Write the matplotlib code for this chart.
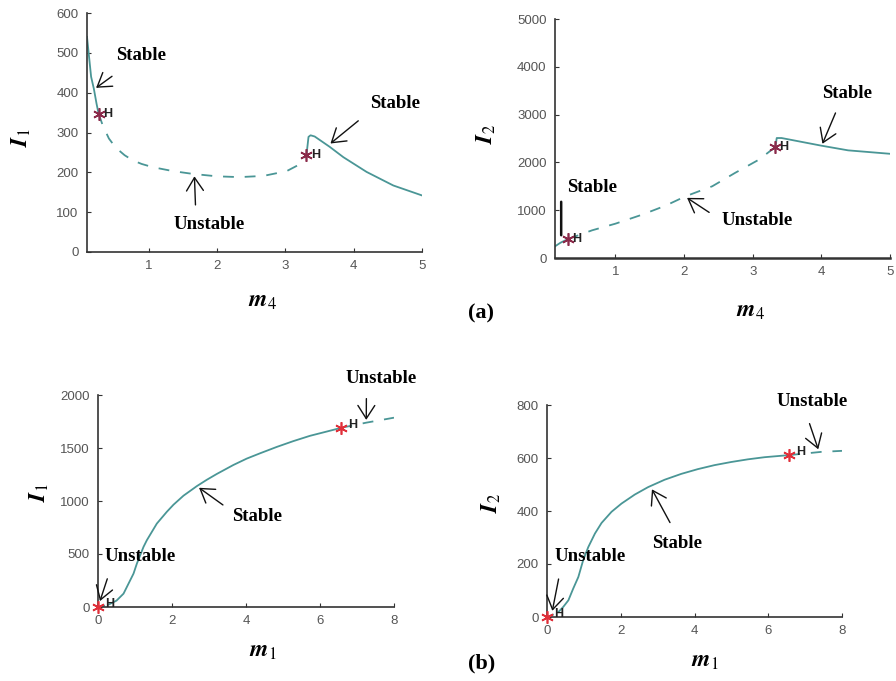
import matplotlib
matplotlib.use("Agg")
import matplotlib.pyplot as plt

plt.rcParams['mathtext.fontset'] = 'stix'
plt.rcParams['font.family'] = ['Liberation Sans', 'DejaVu Sans']

# ---------------- data ----------------
# Panel (a) left: I1 vs m4
p1_stable_a_m = [0.1, 0.13, 0.16, 0.2, 0.24, 0.27]
p1_stable_a_I = [540, 490, 440, 410, 372, 347]
p1_unstable_m = [0.27, 0.33, 0.42, 0.52, 0.65, 0.77, 0.9, 1.06, 1.36, 1.65, 2.0, 2.33, 2.68, 3.02, 3.21, 3.31]
p1_unstable_I = [347, 318, 285, 262, 243, 230, 221, 213, 203, 196, 190, 188, 191, 203, 220, 243]
p1_stable_b_m = [3.31, 3.34, 3.37, 3.43, 3.65, 3.85, 4.19, 4.58, 5.0]
p1_stable_b_I = [243, 289, 293, 290, 264, 238, 201, 167, 142]
p1_hopf_m = [0.27, 3.31]
p1_hopf_I = [347, 243]

# Panel (a) right: I2 vs m4
p2_stable_a_m = [0.12, 0.2, 0.31]
p2_stable_a_I = [244, 320, 397]
p2_unstable_m = [0.31, 0.66, 1.0, 1.39, 1.73, 2.02, 2.41, 2.74, 3.09, 3.33]
p2_unstable_I = [397, 579, 718, 907, 1095, 1290, 1500, 1778, 2057, 2322]
p2_stable_b_m = [3.33, 3.35, 3.42, 4.0, 4.39, 5.0]
p2_stable_b_I = [2322, 2510, 2510, 2350, 2252, 2180]
p2_hopf_m = [0.31, 3.33]
p2_hopf_I = [397, 2322]

# Panel (b) left: I1 vs m1
p3_unstable_a_m = [0.0, 0.1, 0.2, 0.3]
p3_unstable_a_I = [0, 5, 15, 25]
p3_stable_m = [0.3, 0.5, 0.69, 0.78, 0.96, 1.05, 1.23, 1.32, 1.59, 1.86, 2.04, 2.31, 2.67,
               2.94, 3.21, 3.66, 4.02, 4.38, 4.83, 5.28, 5.73, 6.18, 6.58]
p3_stable_I = [25, 60, 126, 189, 315, 409, 567, 630, 787, 898, 965, 1050, 1140,
               1200, 1255, 1340, 1400, 1450, 1510, 1565, 1615, 1655, 1691]
p3_unstable_b_m = [6.58, 7.25, 8.0]
p3_unstable_b_I = [1691, 1739, 1786]
p3_hopf_m = [0.0, 6.58]
p3_hopf_I = [0, 1691]

# Panel (b) right: I2 vs m1
p4_unstable_a_m = [0.0, 0.15, 0.31]
p4_unstable_a_I = [0, 8, 19]
p4_stable_m = [0.31, 0.44, 0.58, 0.71, 0.85, 0.98, 1.12, 1.30, 1.48, 1.75, 2.02, 2.38, 2.74,
               3.19, 3.64, 4.09, 4.54, 5.0, 5.45, 5.9, 6.57]
p4_stable_I = [19, 38, 63, 107, 151, 214, 264, 315, 355, 397, 428, 462, 490,
               518, 540, 558, 573, 585, 595, 603, 611]
p4_unstable_b_m = [6.57, 7.43, 8.0]
p4_unstable_b_I = [611, 623, 627]
p4_hopf_m = [0.0, 6.57]
p4_hopf_I = [0, 611]

line_col = '#4a9696'
ann_font = dict(family='Liberation Serif', fontweight='bold', fontsize=13.5)

fig = plt.figure(figsize=(8.96, 6.81), dpi=100)

def fpos(l, r, t, b):
    W, H = 896.0, 681.0
    return [l / W, 1 - b / H, (r - l) / W, (b - t) / H]

ax1 = fig.add_axes(fpos(87, 422, 13, 252))
ax2 = fig.add_axes(fpos(555, 890, 19, 258))
ax3 = fig.add_axes(fpos(98, 394, 395, 607))
ax4 = fig.add_axes(fpos(547, 842, 405, 617))

def style(ax, xlim, ylim, xticks, yticks):
    ax.set_xlim(*xlim)
    ax.set_ylim(*ylim)
    ax.set_xticks(xticks)
    ax.set_yticks(yticks)
    for s in ['top', 'right']:
        ax.spines[s].set_visible(False)
    for s in ['left', 'bottom']:
        ax.spines[s].set_color('#333333')
        ax.spines[s].set_linewidth(1.2)
    ax.tick_params(direction='in', length=3, width=0.8, colors='#333333',
                   labelcolor='#555555', labelsize=9.5, pad=6)
    ax.patch.set_alpha(0)

def hopf(ax, m, I, col, dx, dy):
    ax.plot(m, I, linestyle='none', marker=(6, 2, 0), markersize=9,
            color=col, markeredgewidth=1.2, clip_on=False, zorder=5)
    for mm, ii in zip(m, I):
        ax.annotate('H', (mm, ii), xytext=(dx, dy), textcoords='offset points',
                    fontsize=9, color='#222222', va='center', ha='left',
                    fontweight='bold')

arrow = dict(arrowstyle='->,head_length=0.7,head_width=0.45', color='#111111', lw=1.0)

def labels(ax, ylab, yx, yy, xlab, xx, xy):
    ax.set_ylabel(ylab, fontsize=17)
    ax.yaxis.set_label_coords(yx, yy)
    ax.set_xlabel(xlab, fontsize=17)
    ax.xaxis.set_label_coords(xx, xy)

# ---- Panel 1 ----
style(ax1, (0.1, 5), (0, 600), [1, 2, 3, 4, 5], [0, 100, 200, 300, 400, 500, 600])
ax1.plot(p1_stable_a_m, p1_stable_a_I, color=line_col, lw=1.3)
ax1.plot(p1_unstable_m, p1_unstable_I, color=line_col, lw=1.3, ls=(0, (6, 6)))
ax1.plot(p1_stable_b_m, p1_stable_b_I, color=line_col, lw=1.3)
hopf(ax1, p1_hopf_m, p1_hopf_I, '#8b2a4a', 3, 0)
ax1.annotate('Stable', xy=(0.2, 408), xytext=(0.89, 494), ha='center', va='center',
             arrowprops=dict(arrow, shrinkA=12), **ann_font)
ax1.annotate('Unstable', xy=(1.67, 197), xytext=(1.88, 69), ha='center', va='center',
             arrowprops=dict(arrow, relpos=(0.32, 1.0), shrinkA=6), **ann_font)
ax1.annotate('Stable', xy=(3.63, 268), xytext=(4.6, 374), ha='center', va='center',
             arrowprops=dict(arrow, relpos=(0.0, 0.0), shrinkA=8), **ann_font)
labels(ax1, r'$\mathbfit{I}_{1}$', -0.16, 0.48, r'$\mathbfit{m}_{4}$', 0.525, -0.159)

# ---- Panel 2 ----
style(ax2, (0.12, 5), (0, 5000), [1, 2, 3, 4, 5], [0, 1000, 2000, 3000, 4000, 5000])
ax2.spines['bottom'].set_linewidth(1.8)
ax2.plot(p2_stable_a_m, p2_stable_a_I, color=line_col, lw=1.3)
ax2.plot(p2_unstable_m, p2_unstable_I, color=line_col, lw=1.3, ls=(0, (6, 6)))
ax2.plot(p2_stable_b_m, p2_stable_b_I, color=line_col, lw=1.3)
hopf(ax2, p2_hopf_m, p2_hopf_I, '#8b2a4a', 3, 0)
ax2.text(0.66, 1465, 'Stable', ha='center', va='center', **ann_font)
ax2.annotate('', xy=(0.21, 418), xytext=(0.21, 1234),
             arrowprops=dict(arrowstyle='-', color='#111111', lw=1.8))
ax2.annotate('Unstable', xy=(2.01, 1290), xytext=(3.06, 788), ha='center', va='center',
             arrowprops=dict(arrow, relpos=(0.0, 0.5), shrinkA=8), **ann_font)
ax2.annotate('Stable', xy=(4.0, 2336), xytext=(4.38, 3431), ha='center', va='center',
             arrowprops=dict(arrow, relpos=(0.35, 0.0), shrinkA=6), **ann_font)
labels(ax2, r'$\mathbfit{I}_{2}$', -0.17, 0.52, r'$\mathbfit{m}_{4}$', 0.585, -0.176)

# ---- Panel 3 ----
style(ax3, (0, 8), (0, 2000), [0, 2, 4, 6, 8], [0, 500, 1000, 1500, 2000])
ax3.plot(p3_unstable_a_m, p3_unstable_a_I, color=line_col, lw=1.3, ls=(0, (4, 3)))
ax3.plot(p3_stable_m, p3_stable_I, color=line_col, lw=1.3)
ax3.plot(p3_unstable_b_m, p3_unstable_b_I, color=line_col, lw=1.3, ls=(0, (6, 6)))
hopf(ax3, p3_hopf_m, p3_hopf_I, '#e0303a', 5, 2)
ax3.annotate('Unstable', xy=(0.03, 31), xytext=(1.14, 472), ha='center', va='center',
             arrowprops=dict(arrow, relpos=(0.1, 0.0), shrinkA=8), **ann_font)
ax3.annotate('Stable', xy=(2.67, 1140), xytext=(4.31, 850), ha='center', va='center',
             arrowprops=dict(arrow, relpos=(0.0, 0.8), shrinkA=6), **ann_font)
ax3.annotate('Unstable', xy=(7.25, 1739), xytext=(7.64, 2151), ha='center', va='center',
             arrowprops=dict(arrow, relpos=(0.3, 0.0), shrinkA=6), annotation_clip=False,
             **ann_font)
labels(ax3, r'$\mathbfit{I}_{1}$', -0.16, 0.54, r'$\mathbfit{m}_{1}$', 0.557, -0.156)

# ---- Panel 4 ----
style(ax4, (0, 8), (0, 800), [0, 2, 4, 6, 8], [0, 200, 400, 600, 800])
ax4.plot(p4_unstable_a_m, p4_unstable_a_I, color=line_col, lw=1.3, ls=(0, (4, 3)))
ax4.plot(p4_stable_m, p4_stable_I, color=line_col, lw=1.3)
ax4.plot(p4_unstable_b_m, p4_unstable_b_I, color=line_col, lw=1.3, ls=(0, (6, 6)))
hopf(ax4, p4_hopf_m, p4_hopf_I, '#e0303a', 5, 2)
ax4.annotate('Unstable', xy=(0.13, 13), xytext=(1.16, 227), ha='center', va='center',
             arrowprops=dict(arrow, relpos=(0.1, 0.0), shrinkA=8), **ann_font)
ax4.annotate('Stable', xy=(2.81, 491), xytext=(3.52, 277), ha='center', va='center',
             arrowprops=dict(arrow, relpos=(0.5, 1.0), shrinkA=8), **ann_font)
ax4.annotate('Unstable', xy=(7.38, 623), xytext=(7.19, 812), ha='center', va='center',
             arrowprops=dict(arrow, relpos=(0.4, 0.0), shrinkA=8), annotation_clip=False,
             **ann_font)
labels(ax4, r'$\mathbfit{I}_{2}$', -0.15, 0.54, r'$\mathbfit{m}_{1}$', 0.536, -0.156)

fig.text(0.537, 0.540, '(a)', family='Liberation Serif', fontweight='bold', fontsize=16,
         ha='center', va='center')
fig.text(0.537, 0.026, '(b)', family='Liberation Serif', fontweight='bold', fontsize=16,
         ha='center', va='center')

fig.savefig('out.png', dpi=100)
